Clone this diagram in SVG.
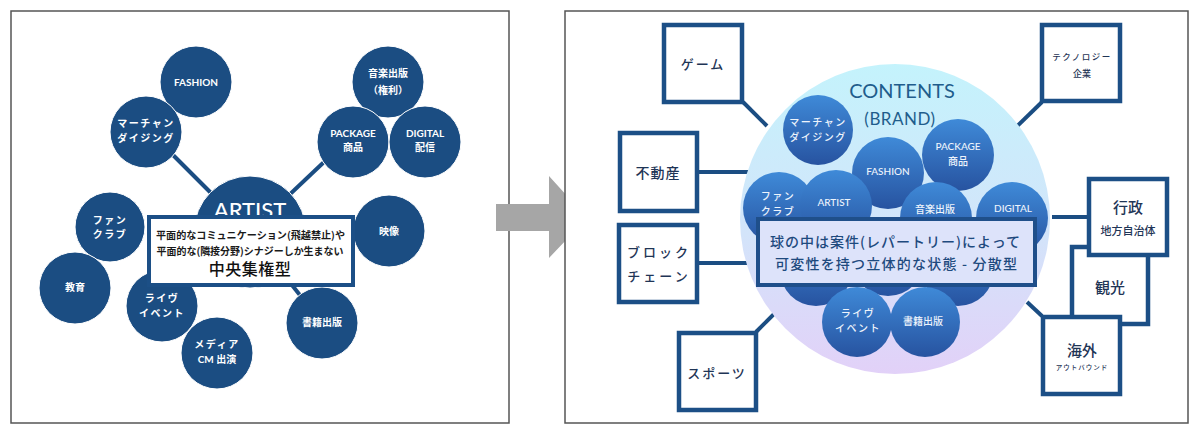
<svg xmlns="http://www.w3.org/2000/svg" width="1200" height="434" viewBox="0 0 1200 434">
<defs>
<linearGradient id="sphere" x1="0" y1="0" x2="0" y2="1">
<stop offset="0" stop-color="#c4f3fc"/>
<stop offset="0.55" stop-color="#d3e4fa"/>
<stop offset="1" stop-color="#e2d1f8"/>
</linearGradient>
<linearGradient id="ball" x1="0" y1="0" x2="0" y2="1">
<stop offset="0" stop-color="#3f8ad8"/>
<stop offset="1" stop-color="#2753a0"/>
</linearGradient>
<style>
.frame{fill:#fff;stroke:#555;stroke-width:1.5}
.lc{fill:#1b4d82;stroke:#fff;stroke-width:1}
.rc{fill:url(#ball)}
.lt{fill:#fff;font-family:Lato,"Noto Sans CJK JP",sans-serif;font-size:10px;font-weight:700;text-anchor:middle;dominant-baseline:central}
.rt{fill:#eef4fc;font-family:Lato,"Noto Sans CJK JP",sans-serif;font-size:10px;font-weight:500;text-anchor:middle;dominant-baseline:central}
.con{stroke:#1b4d82;stroke-width:4;fill:none}
.bx{fill:#fff;stroke:#1c4f86;stroke-width:4.5}
.bt{fill:#1f3556;font-family:Lato,"Noto Sans CJK JP",sans-serif;font-weight:500;text-anchor:middle;dominant-baseline:central}
</style>
</defs>
<rect width="1200" height="434" fill="#fff"/>

<!-- LEFT PANEL -->
<rect class="frame" x="11" y="11" width="498" height="412"/>
<g id="left-connectors">
<line class="con" x1="173" y1="155" x2="250" y2="232"/>
<line class="con" x1="324" y1="162" x2="250" y2="232"/>
<line class="con" x1="322" y1="323" x2="250" y2="232"/>
</g>
<g id="l-artist"><circle class="lc" cx="250" cy="232" r="56"/><text x="250" y="209" fill="#fff" font-family="Lato,sans-serif" font-size="22" font-weight="500" text-anchor="middle" dominant-baseline="central">ARTIST</text></g>
<g id="l-fashion"><circle class="lc" cx="196" cy="82" r="36"/><text class="lt" x="196" y="82">FASHION</text></g>
<g id="l-merch"><circle class="lc" cx="146" cy="132" r="36"/><text class="lt" x="146" y="123" letter-spacing="1.5">マーチャン</text><text class="lt" x="146" y="138" letter-spacing="1.5">ダイジング</text></g>
<g id="l-music"><circle class="lc" cx="388" cy="82" r="36"/><text class="lt" x="388" y="73">音楽出版</text><text class="lt" x="388" y="90">（権利）</text></g>
<g id="l-package"><circle class="lc" cx="353" cy="142" r="36"/><text class="lt" x="353" y="133" font-size="9.5">PACKAGE</text><text class="lt" x="353" y="147">商品</text></g>
<g id="l-digital"><circle class="lc" cx="425" cy="142" r="36"/><text class="lt" x="425" y="133">DIGITAL</text><text class="lt" x="425" y="147">配信</text></g>
<g id="l-fanclub"><circle class="lc" cx="110" cy="227" r="35"/><text class="lt" x="110" y="220" letter-spacing="1.5">ファン</text><text class="lt" x="110" y="234" letter-spacing="1.5">クラブ</text></g>
<g id="l-edu"><circle class="lc" cx="75" cy="288" r="36"/><text class="lt" x="75" y="287">教育</text></g>
<g id="l-live"><circle class="lc" cx="162" cy="306" r="36"/><text class="lt" x="162" y="298" letter-spacing="1.5">ライヴ</text><text class="lt" x="162" y="313" letter-spacing="1.5">イベント</text></g>
<g id="l-media"><circle class="lc" cx="217" cy="353" r="36"/><text class="lt" x="217" y="344" letter-spacing="1.5">メディア</text><text class="lt" x="217" y="359">CM 出演</text></g>
<g id="l-video"><circle class="lc" cx="389" cy="231" r="36"/><text class="lt" x="389" y="231">映像</text></g>
<g id="l-books"><circle class="lc" cx="322" cy="323" r="36"/><text class="lt" x="322" y="322">書籍出版</text></g>
<g id="l-label">
<rect x="149" y="217" width="204" height="68" fill="#fff" stroke="#1c4f86" stroke-width="4"/>
<text x="250.5" y="234" fill="#1a1a1a" font-family="'Noto Sans CJK JP',sans-serif" font-size="10" font-weight="700" text-anchor="middle" dominant-baseline="central" textLength="189" lengthAdjust="spacingAndGlyphs">平面的なコミュニケーション(飛越禁止)や</text>
<text x="250" y="250" fill="#1a1a1a" font-family="'Noto Sans CJK JP',sans-serif" font-size="10" font-weight="700" text-anchor="middle" dominant-baseline="central" textLength="187" lengthAdjust="spacingAndGlyphs">平面的な(隣接分野)シナジーしか生まない</text>
<text x="250" y="268" fill="#111" font-family="'Noto Sans CJK JP',sans-serif" font-size="16" font-weight="500" text-anchor="middle" dominant-baseline="central" letter-spacing="0.5">中央集権型</text>
</g>

<!-- ARROW -->
<g id="arrow"><polygon points="496,204 549,204 549,176 587,218 549,258 549,231 496,231" fill="#a6a6a6"/></g>

<!-- RIGHT PANEL -->
<rect class="frame" x="565" y="11" width="623" height="412"/>
<g id="right-connectors">
<line class="con" x1="743" y1="102" x2="767" y2="126"/>
<line class="con" x1="699" y1="172" x2="753" y2="172"/>
<line class="con" x1="699" y1="263" x2="747" y2="263"/>
<line class="con" x1="756" y1="332" x2="785" y2="303"/>
<line class="con" x1="1042" y1="102" x2="1005" y2="138"/>
<line class="con" x1="1052" y1="217" x2="1087" y2="217"/>
<line class="con" x1="1027" y1="302" x2="1042" y2="316"/>
</g>
<g id="sphere-node">
<circle cx="895" cy="219" r="155" fill="url(#sphere)"/>
<text x="902" y="90" fill="#1f5d8c" font-family="Lato,sans-serif" font-size="20" text-anchor="middle" dominant-baseline="central">CONTENTS</text>
<text x="900" y="118" fill="#1f5d8c" font-family="Lato,sans-serif" font-size="17" text-anchor="middle" dominant-baseline="central" letter-spacing="0.5">(BRAND)</text>
</g>
<g id="r-hidden1"><circle class="rc" cx="816" cy="270" r="36"/></g>
<g id="r-hidden2"><circle class="rc" cx="888" cy="260" r="36"/></g>
<g id="r-hidden3"><circle class="rc" cx="958" cy="270" r="36"/></g>
<g id="r-merch"><circle class="rc" cx="818" cy="130" r="35"/><text class="rt" x="818" y="122" letter-spacing="1.5">マーチャン</text><text class="rt" x="818" y="137" letter-spacing="1.5">ダイジング</text></g>
<g id="r-package"><circle class="rc" cx="958" cy="155" r="36"/><text class="rt" x="958" y="146" font-size="9.5">PACKAGE</text><text class="rt" x="958" y="161">商品</text></g>
<g id="r-fashion"><circle class="rc" cx="888" cy="173" r="36"/><text class="rt" x="888" y="171">FASHION</text></g>
<g id="r-fanclub"><circle class="rc" cx="779" cy="208" r="36"/><text class="rt" x="778" y="196" letter-spacing="1.5">ファン</text><text class="rt" x="778" y="211" letter-spacing="1.5">クラブ</text></g>
<g id="r-artist"><circle class="rc" cx="836" cy="206" r="36"/><text class="rt" x="834" y="202">ARTIST</text></g>
<g id="r-music"><circle class="rc" cx="936" cy="218" r="36"/><text class="rt" x="935" y="209">音楽出版</text></g>
<g id="r-digital"><circle class="rc" cx="1012" cy="218" r="36"/><text class="rt" x="1013" y="208">DIGITAL</text></g>
<g id="r-live"><circle class="rc" cx="857" cy="322" r="35"/><text class="rt" x="858" y="313" letter-spacing="1.5">ライヴ</text><text class="rt" x="858" y="328" letter-spacing="1.5">イベント</text></g>
<g id="r-books"><circle class="rc" cx="925" cy="322" r="35"/><text class="rt" x="923" y="321">書籍出版</text></g>
<g id="r-label">
<rect x="758" y="219" width="277" height="66" fill="#dde3fa" stroke="#1f4f8a" stroke-width="4"/>
<text x="895" y="241" fill="#1e4a7e" font-family="'Noto Sans CJK JP',sans-serif" font-size="14" font-weight="500" text-anchor="middle" dominant-baseline="central" textLength="250" lengthAdjust="spacing">球の中は案件(レパートリー)によって</text>
<text x="896" y="263" fill="#1e4a7e" font-family="'Noto Sans CJK JP',sans-serif" font-size="14" font-weight="500" text-anchor="middle" dominant-baseline="central" textLength="242" lengthAdjust="spacing">可変性を持つ立体的な状態 - 分散型</text>
</g>
<g id="b-game"><rect class="bx" x="664" y="25" width="78" height="77"/><text class="bt" x="703" y="64" font-size="13" letter-spacing="2">ゲーム</text></g>
<g id="b-realestate"><rect class="bx" x="620" y="133" width="77" height="78"/><text class="bt" x="658" y="172" font-size="14" letter-spacing="1">不動産</text></g>
<g id="b-blockchain"><rect class="bx" x="619" y="225" width="78" height="77"/><text class="bt" x="659" y="252" font-size="13" letter-spacing="3">ブロック</text><text class="bt" x="659" y="276" font-size="13" letter-spacing="3">チェーン</text></g>
<g id="b-sports"><rect class="bx" x="679" y="333" width="77" height="77"/><text class="bt" x="717" y="373" font-size="13" letter-spacing="2">スポーツ</text></g>
<g id="b-tech"><rect class="bx" x="1042" y="25" width="78" height="76"/><text class="bt" x="1082" y="57" font-size="8.5" letter-spacing="1.5">テクノロジー</text><text class="bt" x="1082" y="73" font-size="9">企業</text></g>
<g id="b-tourism"><rect class="bx" x="1072" y="247" width="76" height="77"/><text class="bt" x="1110" y="287" font-size="15">観光</text></g>
<g id="b-gov"><rect class="bx" x="1089" y="179" width="78" height="76"/><text class="bt" x="1128" y="207" font-size="15">行政</text><text class="bt" x="1128" y="230" font-size="11">地方自治体</text></g>
<g id="b-overseas"><rect class="bx" x="1043" y="317" width="77" height="77"/><text class="bt" x="1082" y="350" font-size="15">海外</text><text class="bt" x="1082" y="367" font-size="6.5" letter-spacing="1">アウトバウンド</text></g>
</svg>
